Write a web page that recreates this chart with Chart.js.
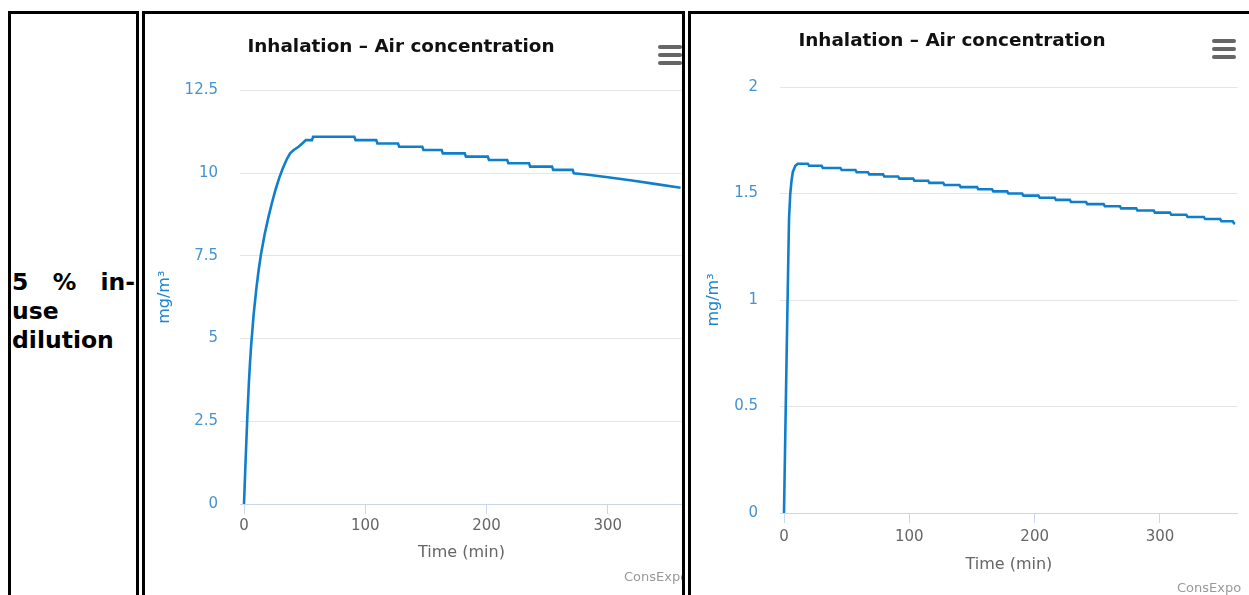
<!DOCTYPE html>
<html>
<head>
<meta charset="utf-8">
<script src="https://cdn.jsdelivr.net/npm/chart.js"></script>
<style>
body { margin: 0; width: 1249px; height: 595px; overflow: hidden; background: #fff; font-family: "DejaVu Sans", sans-serif; }
.cell { position: absolute; top: 11px; height: 620px; border: 3px solid #000; box-sizing: border-box; overflow: hidden; }
.label { position: absolute; left: 1px; top: 254px; width: 123px; font-weight: bold; font-size: 23.5px; line-height: 29px; text-align: justify; color: #000; }
.title { position: absolute; width: 400px; text-align: center; font-weight: bold; font-size: 18.4px; line-height: 22px; color: #111; white-space: nowrap; }
.menu { position: absolute; width: 24px; }
.menu div { height: 4px; background: #666; border-radius: 2px; margin-bottom: 4px; }
.credit { position: absolute; font-size: 13px; line-height: 16px; color: #999; white-space: nowrap; }
canvas { position: absolute; left: 0; top: 0; }
</style>
</head>
<body>

<div class="cell" style="left:8px; width:131px;">
  <div class="label">5 % in-use dilution</div>
</div>

<div class="cell" style="left:142px; width:543px;">
  <canvas id="chart1" width="550" height="590"></canvas>
  <div class="title" style="left:56px; top:21px;">Inhalation – Air concentration</div>
  <div class="menu" style="left:513px; top:31px;"><div></div><div></div><div></div></div>
  <div class="credit" style="left:479px; top:555px;">ConsExpo</div>
</div>

<div class="cell" style="left:688px; width:600px;">
  <canvas id="chart2" width="560" height="590"></canvas>
  <div class="title" style="left:61px; top:15px;">Inhalation – Air concentration</div>
  <div class="menu" style="left:521px; top:25px;"><div></div><div></div><div></div></div>
  <div class="credit" style="left:486px; top:566px;">ConsExpo</div>
</div>

<script>
// tick values
const xTicks = [0, 100, 200, 300];
const yTicks1 = [0, 2.5, 5, 7.5, 10, 12.5];
const yTicks2 = [0, 0.5, 1, 1.5, 2];

// left chart: time (min) and air concentration (mg/m3)
const t1 = [0, 1, 2, 3, 4, 5, 6, 8, 10, 12, 14, 17, 20, 23, 26, 29,
  32, 35, 38, 41, 45, 48, 51, 56, 57, 91, 92, 109, 110, 127, 128, 147, 148, 163, 164,
  182, 183, 201, 202, 217, 218, 235, 236, 254, 255, 271, 272, 282, 300, 320, 340, 360];
const c1 = [0, 1.0, 1.95, 2.85, 3.65, 4.3, 4.85, 5.75, 6.45, 7.05, 7.55, 8.15, 8.65, 9.1, 9.5, 9.85,
  10.15, 10.4, 10.6, 10.7, 10.8, 10.9, 11.0, 11.0, 11.1, 11.1, 11.0, 11.0, 10.9, 10.9, 10.8, 10.8, 10.7, 10.7, 10.6,
  10.6, 10.5, 10.5, 10.4, 10.4, 10.3, 10.3, 10.2, 10.2, 10.1, 10.1, 10.0, 9.96, 9.88, 9.78, 9.67, 9.56];

// right chart
const t2 = [0, 1, 2, 3, 4, 5, 6, 7, 9, 11,
  19, 20, 30, 31, 45, 46, 57, 58, 67, 68, 79, 80, 91, 92, 103, 104, 115, 116, 127, 128,
  140, 141, 154, 155, 166, 167, 178, 179, 190, 191, 203, 204, 216, 217, 228, 229, 241, 242,
  255, 256, 268, 269, 281, 282, 295, 296, 308, 309, 321, 322, 335, 336, 348, 349, 358, 359, 360];
const c2 = [0, 0.36, 0.71, 1.05, 1.38, 1.5, 1.56, 1.6, 1.63, 1.64,
  1.64, 1.63, 1.63, 1.62, 1.62, 1.61, 1.61, 1.60, 1.60, 1.59, 1.59, 1.58, 1.58, 1.57, 1.57, 1.56, 1.56, 1.55, 1.55, 1.54,
  1.54, 1.53, 1.53, 1.52, 1.52, 1.51, 1.51, 1.50, 1.50, 1.49, 1.49, 1.48, 1.48, 1.47, 1.47, 1.46, 1.46, 1.45,
  1.45, 1.44, 1.44, 1.43, 1.43, 1.42, 1.42, 1.41, 1.41, 1.40, 1.40, 1.39, 1.39, 1.38, 1.38, 1.37, 1.37, 1.36, 1.36];

function drawChart(id, times, conc, yTicks, L) {
  new Chart(document.getElementById(id), {
    type: 'line',
    data: {
      datasets: [{
        data: times.map((t, i) => ({ x: t, y: conc[i] })),
        borderColor: '#0f7fcc',
        borderWidth: 2.6,
        pointRadius: 0,
        tension: 0,
        fill: false
      }]
    },
    options: {
      responsive: false,
      animation: false,
      events: [],
      layout: { padding: { top: L.top, right: L.right, left: 0, bottom: 0 } },
      plugins: { legend: { display: false }, tooltip: { enabled: false } },
      scales: {
        x: {
          type: 'linear',
          min: L.xmin,
          max: 362,
          afterBuildTicks: s => { s.ticks = xTicks.map(v => ({ value: v })); },
          afterFit: s => { s.height = L.xh; },
          grid: { drawOnChartArea: false, drawTicks: true, tickLength: 10, color: '#ccd6eb' },
          border: { color: '#ccd6eb' },
          ticks: { color: '#666', font: { family: 'DejaVu Sans', size: 15 }, padding: L.xpad, maxRotation: 0, callback: v => String(v) },
          title: { display: true, text: 'Time (min)', color: '#666', font: { family: 'DejaVu Sans', size: 16 }, padding: { top: 0, bottom: L.xtitle } }
        },
        y: {
          min: 0,
          max: yTicks[yTicks.length - 1],
          afterBuildTicks: s => { s.ticks = yTicks.map(v => ({ value: v })); },
          afterFit: s => { s.width = L.yw; },
          grid: { color: '#e6e6e6', drawTicks: false },
          border: { display: false },
          ticks: { color: '#4393d3', font: { family: 'DejaVu Sans', size: 15 }, padding: L.ypad, callback: v => String(v) },
          title: { display: true, text: 'mg/m³', color: '#1f85d0', font: { family: 'DejaVu Sans', size: 16 }, padding: { top: L.ytitle, bottom: 0 } }
        }
      }
    }
  });
}

drawChart('chart1', t1, c1, yTicks1,
  { top: 76.5, right: 12, xmin: -3.3, xh: 100, xpad: 3, xtitle: 41.4, yw: 95, ypad: 22, ytitle: 10.4 });
drawChart('chart2', t2, c2, yTicks2,
  { top: 73, right: 13.3, xmin: -3.2, xh: 91, xpad: 5, xtitle: 29.4, yw: 89, ypad: 22, ytitle: 13.4 });
</script>
</body>
</html>
